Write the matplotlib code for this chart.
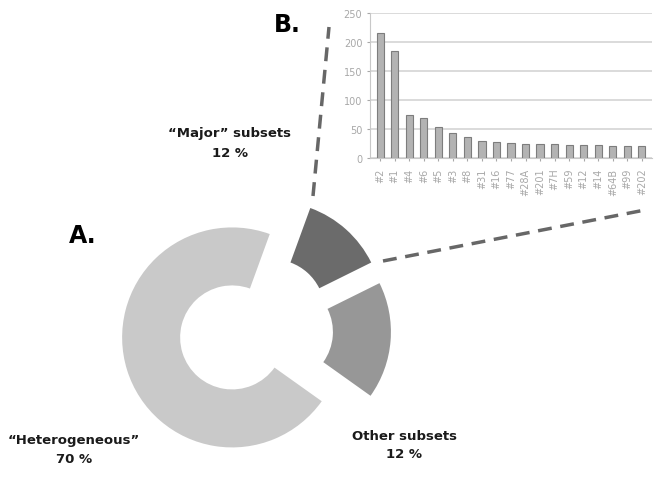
import matplotlib
matplotlib.use("Agg")
import matplotlib.pyplot as plt

# Data -----------------------------
pie_labels = ["\u201cHeterogeneous\u201d", "Other subsets", "\u201cMajor\u201d subsets"]
pie_pct_text = ["70 %", "12 %", "12 %"]
pie_sizes = [70, 17, 12]          # wedge sizes as drawn in the picture
pie_colors = ["#c9c9c9", "#979797", "#6b6b6b"]

subsets = ["#2", "#1", "#4", "#6", "#5", "#3", "#8", "#31", "#16", "#77",
           "#28A", "#201", "#7H", "#59", "#12", "#14", "#64B", "#99", "#202"]
counts = [215, 185, 75, 69, 54, 43, 36, 30, 27, 26,
          24, 24, 24, 23, 23, 22, 21, 21, 21]
yticks = [0, 50, 100, 150, 200, 250]

W, H = 665, 481
fig = plt.figure(figsize=(W / 100, H / 100), dpi=100)

# Main canvas in pixel units (y measured upward) -------------
ax = fig.add_axes([0, 0, 1, 1])
# every slice pulled out the same distance, like the original
ax.pie(pie_sizes, colors=pie_colors, startangle=70, counterclock=True,
       center=(256, H - 331), radius=110, explode=[25, 25, 25],
       wedgeprops=dict(width=58, linewidth=0))
ax.set_xlim(0, W)
ax.set_ylim(0, H)
ax.set_aspect("auto")
ax.axis("off")

# dashed zoom lines towards the bar chart
dash = dict(ls=(0, (4, 2.5)), color="#676767", lw=2.5, solid_capstyle="butt")
ax.plot([313, 329], [H - 197, H - 28], **dash)
ax.plot([383, 645], [H - 262, H - 211], **dash)

lab_font = dict(fontsize=9.5, fontweight="bold", color="#1a1a1a", ha="center")
ax.text(230, H - 137, pie_labels[2], **lab_font)
ax.text(230, H - 157, pie_pct_text[2], **lab_font)
ax.text(74, H - 444, pie_labels[0], **lab_font)
ax.text(74, H - 463, pie_pct_text[0], **lab_font)
ax.text(404, H - 440, pie_labels[1], **lab_font)
ax.text(404, H - 458, pie_pct_text[1], **lab_font)

ax.text(83, H - 243, "A.", fontsize=17, fontweight="bold", color="black", ha="center")
ax.text(287, H - 32, "B.", fontsize=17, fontweight="bold", color="black", ha="center")

# Inset bar chart -----------------------------
bx = fig.add_axes([370 / W, (H - 159) / H, 282 / W, 145 / H])
xs = range(len(subsets))
bx.bar(xs, counts, width=0.5, color="#b3b3b3", edgecolor="#7d7d7d", linewidth=0.8, zorder=3)
bx.set_xlim(-0.7, len(subsets) - 0.3)
bx.set_ylim(0, 250)
bx.set_yticks(yticks)
bx.set_xticks(list(xs))
bx.set_xticklabels(subsets, rotation=90)
bx.tick_params(axis="both", colors="#a8a8a8", labelsize=7, length=2)
bx.tick_params(axis="x", pad=5)
bx.grid(axis="y", color="#d4d4d4", lw=1.2, zorder=0)
for s in ["top", "right"]:
    bx.spines[s].set_visible(False)
bx.spines["left"].set_color("#c8c8c8")
bx.spines["bottom"].set_color("#c8c8c8")
bx.set_facecolor("none")

fig.savefig("out.png", dpi=100)
